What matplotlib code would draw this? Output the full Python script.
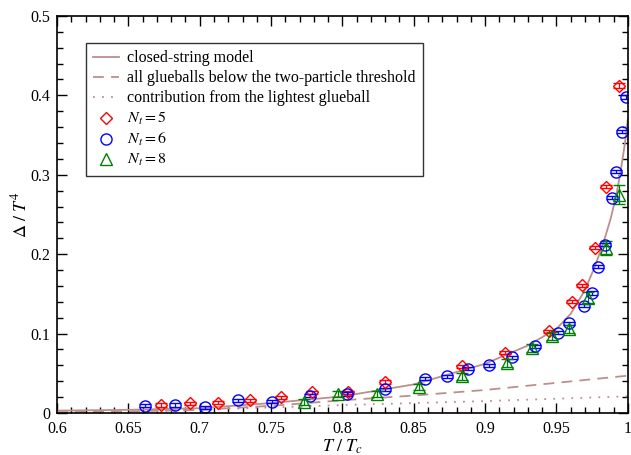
import matplotlib
matplotlib.use('Agg')
from matplotlib import pyplot as plt
from matplotlib.ticker import MultipleLocator
import numpy as np

plt.rcParams['font.family'] = ['Liberation Serif', 'DejaVu Serif']
plt.rcParams['mathtext.fontset'] = 'stix'

# closed-string model curve
cs_x = [0.6, 0.65, 0.7, 0.75, 0.8, 0.85, 0.9, 0.93, 0.95, 0.96, 0.97, 0.977, 0.983, 0.988, 0.992, 0.995, 0.998, 1.0]
cs_y = [0.003, 0.004, 0.006, 0.0125, 0.021, 0.036, 0.062, 0.085, 0.106, 0.125, 0.155, 0.185, 0.215, 0.245, 0.275, 0.305, 0.34, 0.37]

# all glueballs below two-particle threshold
gb_x = [0.6, 0.65, 0.7, 0.75, 0.8, 0.85, 0.9, 0.95, 1.0]
gb_y = [0.001, 0.002, 0.004, 0.009, 0.016, 0.022, 0.029, 0.038, 0.047]

# lightest glueball
lg_x = [0.6, 0.65, 0.7, 0.75, 0.8, 0.85, 0.9, 0.95, 1.0]
lg_y = [0.0005, 0.0015, 0.004, 0.007, 0.010, 0.0125, 0.015, 0.018, 0.021]

# lattice data
n5_x = [0.673, 0.693, 0.713, 0.735, 0.757, 0.779, 0.804, 0.830, 0.884, 0.914, 0.945, 0.961, 0.968, 0.977, 0.985, 0.994]
n5_y = [0.010, 0.012, 0.013, 0.016, 0.020, 0.026, 0.026, 0.039, 0.059, 0.076, 0.103, 0.140, 0.161, 0.208, 0.285, 0.412]
n5_e = [0.002] * 15 + [0.003]

n6_x = [0.662, 0.683, 0.704, 0.727, 0.751, 0.777, 0.803, 0.830, 0.858, 0.873, 0.888, 0.903,
        0.919, 0.935, 0.951, 0.959, 0.969, 0.975, 0.979, 0.984, 0.989, 0.992, 0.996, 0.999]
n6_y = [0.009, 0.010, 0.007, 0.016, 0.014, 0.022, 0.024, 0.030, 0.043, 0.046, 0.056, 0.060,
        0.070, 0.084, 0.101, 0.113, 0.135, 0.151, 0.184, 0.212, 0.271, 0.304, 0.354, 0.398]
n6_e = [0.002] * 24

n8_x = [0.773, 0.797, 0.824, 0.854, 0.884, 0.915, 0.933, 0.947, 0.959, 0.972, 0.985, 0.994]
n8_y = [0.014, 0.024, 0.024, 0.033, 0.046, 0.063, 0.082, 0.097, 0.106, 0.145, 0.208, 0.275]
n8_e = [0.004, 0.004, 0.004, 0.004, 0.004, 0.005, 0.005, 0.005, 0.005, 0.007, 0.009, 0.012]

curve_col = '#bc8f8f'

fig = plt.figure(figsize=(6.31, 4.55), dpi=100)
ax = fig.add_axes([0.0903, 0.0923, 0.9047, 0.8727])

ax.plot(cs_x, cs_y, color=curve_col, lw=1.3, label='closed-string model')
ax.plot(gb_x, gb_y, color=curve_col, lw=1.3, ls=(0, (6, 4)),
        label='all glueballs below the two-particle threshold')
ax.plot(lg_x, lg_y, color=curve_col, lw=1.3, ls=(0, (1, 4)),
        label='contribution from the lightest glueball')

ax.errorbar(n5_x, n5_y, yerr=n5_e, fmt='D', ms=6, mfc='none', mec='red', ecolor='red',
            elinewidth=0.9, capsize=4, mew=1.0)
ax.errorbar(n6_x, n6_y, yerr=n6_e, fmt='o', ms=8, mfc='none', mec='blue', ecolor='blue',
            elinewidth=0.9, capsize=4, mew=1.0)
ax.errorbar(n8_x, n8_y, yerr=n8_e, fmt='^', ms=8, mfc='none', mec='#008000', ecolor='#008000',
            elinewidth=0.9, capsize=4, mew=1.0)

ax.plot([], [], 'D', ms=6, mfc='none', mec='red', label=r'$N_t = 5$')
ax.plot([], [], 'o', ms=8, mfc='none', mec='blue', label=r'$N_t = 6$')
ax.plot([], [], '^', ms=8, mfc='none', mec='#008000', label=r'$N_t = 8$')

ax.set_xlim(0.6, 1.0)
ax.set_ylim(0, 0.5)
ax.xaxis.set_minor_locator(MultipleLocator(0.01))
ax.yaxis.set_minor_locator(MultipleLocator(0.02))
ax.set_xticks([0.6, 0.65, 0.7, 0.75, 0.8, 0.85, 0.9, 0.95, 1.0])
ax.set_xticklabels(['0.6', '0.65', '0.7', '0.75', '0.8', '0.85', '0.9', '0.95', '1'])
ax.set_yticks([0, 0.1, 0.2, 0.3, 0.4, 0.5])
ax.set_yticklabels(['0', '0.1', '0.2', '0.3', '0.4', '0.5'])
ax.tick_params(which='both', direction='in', top=True, right=True, labelsize=11.5)
ax.tick_params(which='major', length=7, width=1)
ax.tick_params(which='minor', length=4, width=1)
ax.tick_params(axis='x', pad=6)
ax.tick_params(axis='y', pad=5)
for s in ax.spines.values():
    s.set_linewidth(1.2)

ax.set_xlabel(r'$T\ /\ T_c$', fontsize=13, labelpad=0)
ax.set_ylabel(r'$\Delta\ /\ T^4$', fontsize=13, labelpad=0)

leg = ax.legend(loc='upper left', bbox_to_anchor=(0.051, 0.932), borderaxespad=0,
                fontsize=11.5, frameon=True, fancybox=False, edgecolor='black',
                handlelength=1.6, handletextpad=0.5, labelspacing=0.25, borderpad=0.45)
leg.get_frame().set_linewidth(1.0)

fig.savefig('out.png', dpi=100)
